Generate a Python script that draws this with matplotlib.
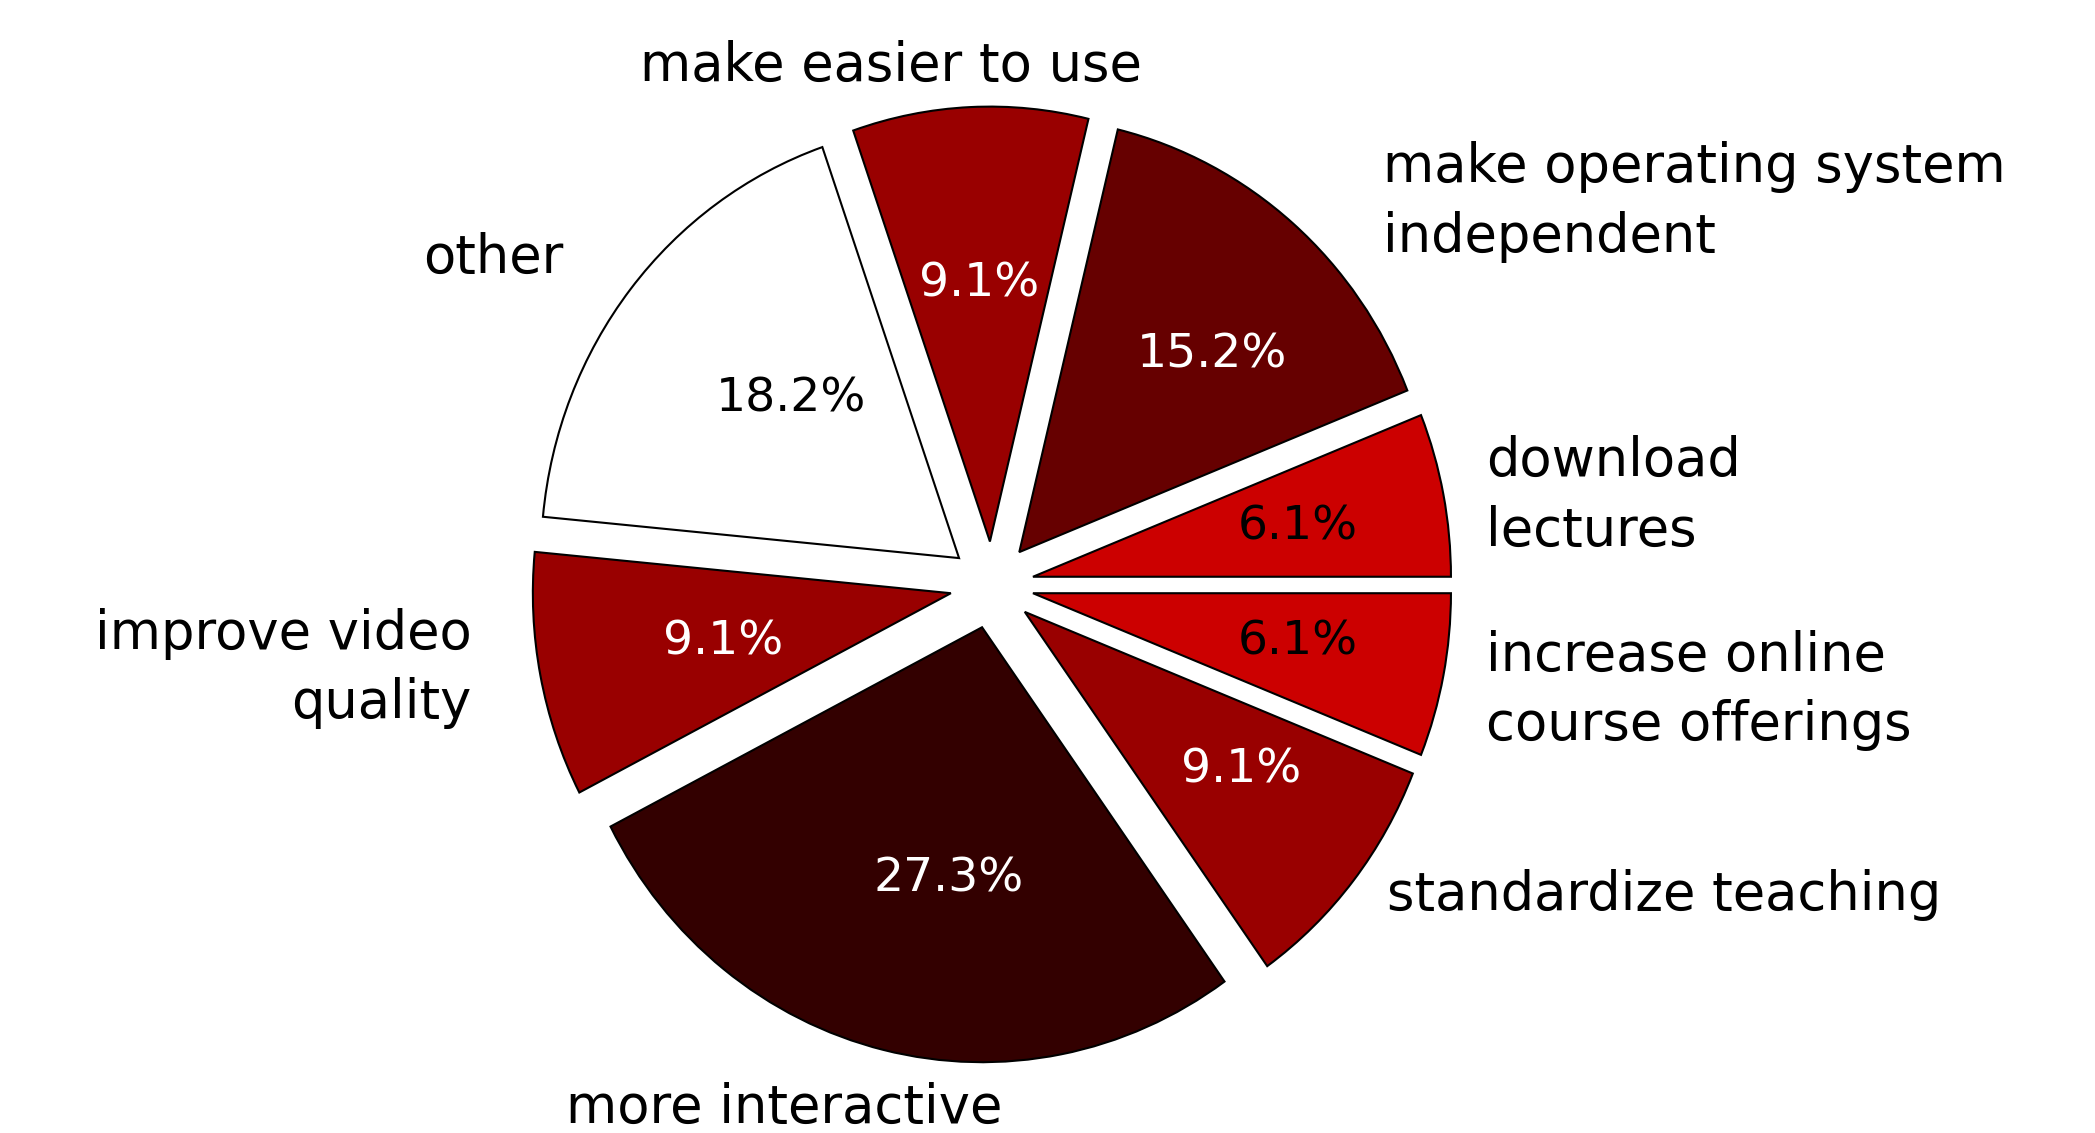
import matplotlib
matplotlib.use("Agg")
import matplotlib.pyplot as plt

# survey answers, counter-clockwise starting at 3 o'clock
categories = [
    "download\nlectures",
    "make operating system\nindependent",
    "make easier to use",
    "other",
    "improve video\nquality",
    "more interactive",
    "standardize teaching",
    "increase online\ncourse offerings",
]
counts = [2, 5, 3, 6, 3, 9, 3, 2]
colors = ["#cc0000", "#660000", "#990000", "#ffffff",
          "#990000", "#330000", "#990000", "#cc0000"]
pct_colors = ["black", "white", "white", "black",
              "white", "white", "white", "black"]

# label anchor (x, y in pie-radius units) and alignment
label_pos = [
    (1.182, 0.205, "left"),
    (0.935, 0.881, "left"),
    (-0.242, 1.194, "center"),
    (-1.024, 0.752, "right"),
    (-1.244, -0.192, "right"),
    (-0.498, -1.203, "center"),
    (0.945, -0.713, "left"),
    (1.182, -0.243, "left"),
]
# where the percentages sit in the original (not exactly on pctdistance)
pct_pos = [
    (0.733, 0.133), (0.526, 0.529), (-0.030, 0.692), (-0.481, 0.428),
    (-0.644, -0.131), (-0.104, -0.675), (0.596, -0.426), (0.733, -0.131),
]

plt.rcParams["font.family"] = ["DejaVu Sans"]

fig = plt.figure(figsize=(20.95, 11.33), dpi=100)
ax = fig.add_axes([0, 0, 1, 1])

wedges, texts, autotexts = ax.pie(
    counts,
    colors=colors,
    explode=[0.1] * len(counts),
    startangle=0,
    counterclock=True,
    autopct="%1.1f%%",
    pctdistance=0.6,
    wedgeprops=dict(edgecolor="black", linewidth=1.5),
    textprops=dict(fontsize=34),
)
for t, c, p in zip(autotexts, pct_colors, pct_pos):
    t.set_color(c)
    t.set_position(p)

for cat, (x, y, ha) in zip(categories, label_pos):
    ax.text(x, y, cat, ha=ha, va="center", multialignment=ha,
            fontsize=38, linespacing=1.43)

# the original is a touch taller than wide
ax.set_aspect("auto")
ax.set_xlim(-2.373, 2.639)
ax.set_ylim(-1.260, 1.345)
ax.axis("off")

fig.savefig("out.png", dpi=100, facecolor="white")
